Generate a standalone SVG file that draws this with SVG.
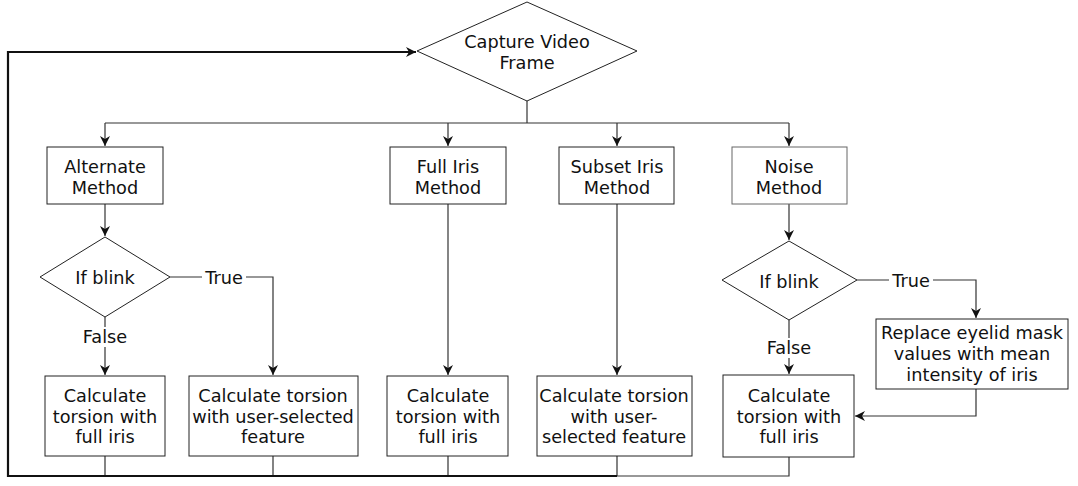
<svg xmlns="http://www.w3.org/2000/svg" width="1078" height="486" viewBox="0 0 1078 486">
<style>
text{font-family:"DejaVu Sans",Verdana,sans-serif;font-size:17.7px;fill:#111;text-anchor:middle}
.n{fill:#fff;stroke:#222;stroke-width:1}
.c{fill:none;stroke:#333;stroke-width:1.2}
.k{fill:none;stroke:#111;stroke-width:2.2}
.lb{fill:#fff;stroke:none}
</style>
<defs>
<marker id="a" viewBox="0 0 10 10" refX="10" refY="5" markerWidth="10" markerHeight="10" markerUnits="userSpaceOnUse" orient="auto">
<path d="M0,0 L10,5 L0,10 L3,5 z" fill="#111"/>
</marker>
</defs>
<rect width="1078" height="486" fill="#fff"/>
<g id="connectors">
<path class="c" d="M527,101 V123"/>
<path class="c" d="M105,123 H789"/>
<path class="c" d="M105,123 V146" marker-end="url(#a)"/>
<path class="c" d="M448,123 V146" marker-end="url(#a)"/>
<path class="c" d="M617,123 V146" marker-end="url(#a)"/>
<path class="c" d="M789,123 V146" marker-end="url(#a)"/>
<path class="c" d="M105,204 V236" marker-end="url(#a)"/>
<path class="c" d="M105,317 V375" marker-end="url(#a)"/>
<path class="c" d="M170,277 H273 V375" marker-end="url(#a)"/>
<path class="c" d="M448,204 V375" marker-end="url(#a)"/>
<path class="c" d="M617,204 V375" marker-end="url(#a)"/>
<path class="c" d="M789,204 V240" marker-end="url(#a)"/>
<path class="c" d="M789,320 V374" marker-end="url(#a)"/>
<path class="c" d="M857,280 H976 V318" marker-end="url(#a)"/>
<path class="c" d="M976,389 V416 H855" marker-end="url(#a)"/>
<path class="c" d="M105,456 V476 M273,456 V476 M448,456 V476 M617,456 V476 M789,457 V476 H617"/>
<path class="k" d="M617,476 H8 V52 H416" marker-end="url(#a)"/>
<rect class="lb" x="202" y="268" width="44" height="20"/>
<text x="224" y="284">True</text>
<rect class="lb" x="79" y="327" width="52" height="20"/>
<text x="105" y="343">False</text>
<rect class="lb" x="889" y="271" width="44" height="20"/>
<text x="911" y="287">True</text>
<rect class="lb" x="763" y="338" width="52" height="20"/>
<text x="789" y="354">False</text>
</g>
<g id="capture">
<polygon class="n" points="527,2 637,51 527,101 417,51"/>
<text x="527" y="48">Capture Video</text>
<text x="527" y="69">Frame</text>
</g>
<g id="alternate">
<rect class="n" x="47" y="147" width="116" height="57"/>
<text x="105" y="173">Alternate</text>
<text x="105" y="194">Method</text>
</g>
<g id="fulliris">
<rect class="n" x="390" y="147" width="116" height="57"/>
<text x="448" y="173">Full Iris</text>
<text x="448" y="194">Method</text>
</g>
<g id="subset">
<rect class="n" x="559" y="147" width="115" height="57"/>
<text x="617" y="173">Subset Iris</text>
<text x="617" y="194">Method</text>
</g>
<g id="noise">
<rect class="n" x="732" y="147" width="115" height="57" style="stroke:#666"/>
<text x="789" y="173">Noise</text>
<text x="789" y="194">Method</text>
</g>
<g id="blink1">
<polygon class="n" points="105,237 170,277 105,317 40,277"/>
<text x="105" y="284">If blink</text>
</g>
<g id="blink2">
<polygon class="n" points="789,241 857,280 789,320 722,280"/>
<text x="789" y="288">If blink</text>
</g>
<g id="calc1">
<rect class="n" x="45" y="376" width="120" height="80"/>
<text x="105" y="402">Calculate</text>
<text x="105" y="423">torsion with</text>
<text x="105" y="443">full iris</text>
</g>
<g id="calc2">
<rect class="n" x="189" y="376" width="169" height="80"/>
<text x="273" y="402">Calculate torsion</text>
<text x="273" y="423">with user-selected</text>
<text x="273" y="443">feature</text>
</g>
<g id="calc3">
<rect class="n" x="387" y="376" width="121" height="80"/>
<text x="448" y="402">Calculate</text>
<text x="448" y="423">torsion with</text>
<text x="448" y="443">full iris</text>
</g>
<g id="calc4">
<rect class="n" x="537" y="376" width="155" height="80"/>
<text x="614" y="402">Calculate torsion</text>
<text x="614" y="423">with user-</text>
<text x="614" y="443">selected feature</text>
</g>
<g id="replace">
<rect class="n" x="876" y="319" width="192" height="70"/>
<text x="972" y="339">Replace eyelid mask</text>
<text x="972" y="360">values with mean</text>
<text x="972" y="381">intensity of iris</text>
</g>
<g id="calc5">
<rect class="n" x="723" y="375" width="131" height="82"/>
<text x="789" y="402">Calculate</text>
<text x="789" y="423">torsion with</text>
<text x="789" y="443">full iris</text>
</g>
</svg>
